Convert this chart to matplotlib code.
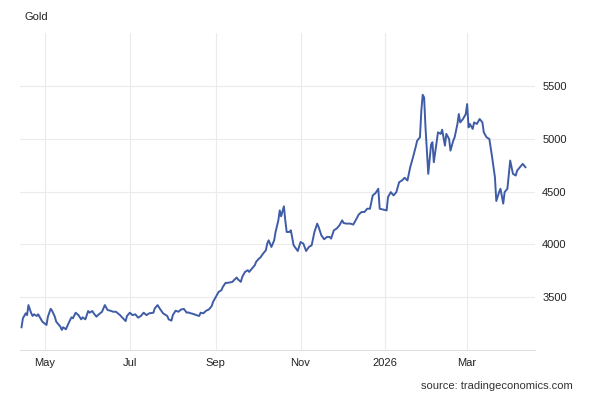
import matplotlib.pyplot as plt
import matplotlib.dates as mdates
import pandas as pd

plt.rcParams['font.family'] = ['Liberation Sans', 'DejaVu Sans']

# gold price
dates = [
    "2025-04-14", "2025-04-15", "2025-04-17", "2025-04-18", "2025-04-19", "2025-04-21",
    "2025-04-22", "2025-04-23", "2025-04-25", "2025-04-26", "2025-04-27", "2025-04-29",
    "2025-05-02", "2025-05-03", "2025-05-05", "2025-05-06", "2025-05-08", "2025-05-09",
    "2025-05-11", "2025-05-12", "2025-05-13", "2025-05-14", "2025-05-16", "2025-05-17",
    "2025-05-19", "2025-05-20", "2025-05-21", "2025-05-23", "2025-05-25", "2025-05-27",
    "2025-05-28", "2025-05-30", "2025-06-01", "2025-06-02", "2025-06-04", "2025-06-05",
    "2025-06-07", "2025-06-08", "2025-06-11", "2025-06-13", "2025-06-15", "2025-06-17",
    "2025-06-19", "2025-06-21", "2025-06-24", "2025-06-25", "2025-06-28", "2025-06-29",
    "2025-07-01", "2025-07-03", "2025-07-05", "2025-07-07", "2025-07-09", "2025-07-11",
    "2025-07-13", "2025-07-15", "2025-07-18", "2025-07-19", "2025-07-21", "2025-07-23",
    "2025-07-25", "2025-07-28", "2025-07-29", "2025-07-31", "2025-08-01", "2025-08-03",
    "2025-08-05", "2025-08-07", "2025-08-09", "2025-08-11", "2025-08-12", "2025-08-14",
    "2025-08-16", "2025-08-18", "2025-08-20", "2025-08-21", "2025-08-23", "2025-08-25",
    "2025-08-27", "2025-08-29", "2025-08-30", "2025-09-01", "2025-09-03", "2025-09-05",
    "2025-09-06", "2025-09-08", "2025-09-09", "2025-09-11", "2025-09-13", "2025-09-14",
    "2025-09-16", "2025-09-17", "2025-09-19", "2025-09-20", "2025-09-22", "2025-09-24",
    "2025-09-25", "2025-09-27", "2025-09-29", "2025-09-30", "2025-10-02", "2025-10-03",
    "2025-10-05", "2025-10-07", "2025-10-08", "2025-10-09", "2025-10-11", "2025-10-13",
    "2025-10-14", "2025-10-16", "2025-10-17", "2025-10-18", "2025-10-20", "2025-10-21",
    "2025-10-22", "2025-10-24", "2025-10-25", "2025-10-27", "2025-10-30", "2025-11-01",
    "2025-11-03", "2025-11-05", "2025-11-07", "2025-11-09", "2025-11-11", "2025-11-13",
    "2025-11-14", "2025-11-16", "2025-11-18", "2025-11-20", "2025-11-22", "2025-11-23",
    "2025-11-25", "2025-11-27", "2025-11-29", "2025-12-01", "2025-12-02", "2025-12-04",
    "2025-12-07", "2025-12-09", "2025-12-10", "2025-12-13", "2025-12-15", "2025-12-17",
    "2025-12-19", "2025-12-21", "2025-12-23", "2025-12-25", "2025-12-27", "2025-12-28",
    "2025-12-31", "2026-01-02", "2026-01-03", "2026-01-05", "2026-01-07", "2026-01-09",
    "2026-01-11", "2026-01-13", "2026-01-15", "2026-01-17", "2026-01-19", "2026-01-21",
    "2026-01-23", "2026-01-24", "2026-01-26", "2026-01-27", "2026-01-28", "2026-01-29",
    "2026-01-30", "2026-02-01", "2026-02-03", "2026-02-04", "2026-02-05", "2026-02-07",
    "2026-02-08", "2026-02-10", "2026-02-11", "2026-02-13", "2026-02-14", "2026-02-16",
    "2026-02-17", "2026-02-19", "2026-02-20", "2026-02-22", "2026-02-23", "2026-02-24",
    "2026-02-26", "2026-02-28", "2026-03-01", "2026-03-02", "2026-03-03", "2026-03-05",
    "2026-03-06", "2026-03-08", "2026-03-10", "2026-03-12", "2026-03-13", "2026-03-15",
    "2026-03-17", "2026-03-19", "2026-03-21", "2026-03-22", "2026-03-24", "2026-03-25",
    "2026-03-27", "2026-03-28", "2026-03-30", "2026-04-01", "2026-04-03", "2026-04-05",
    "2026-04-06", "2026-04-08", "2026-04-10", "2026-04-12",
]
prices = [
    3215, 3300, 3347, 3330, 3425, 3347,
    3322, 3338, 3322, 3338, 3315, 3268,
    3237, 3315, 3390, 3372, 3315, 3268,
    3237, 3221, 3190, 3215, 3196, 3227,
    3284, 3309, 3300, 3353, 3330, 3290,
    3309, 3290, 3369, 3353, 3369, 3347,
    3315, 3330, 3362, 3425, 3378, 3372,
    3362, 3362, 3330, 3315, 3274, 3322,
    3353, 3330, 3338, 3306, 3322, 3353,
    3330, 3347, 3353, 3394, 3425, 3384,
    3347, 3322, 3290, 3278, 3330, 3372,
    3362, 3384, 3388, 3353, 3356, 3347,
    3340, 3330, 3322, 3353, 3347, 3372,
    3384, 3416, 3456, 3503, 3550, 3566,
    3597, 3635, 3635, 3639, 3645, 3661,
    3686, 3667, 3645, 3692, 3739, 3755,
    3739, 3771, 3802, 3834, 3865, 3874,
    3912, 3944, 4007, 4038, 3975, 4038,
    4117, 4227, 4321, 4265, 4360, 4227,
    4117, 4117, 4133, 3991, 3937, 4022,
    4007, 3937, 3975, 3991, 4117, 4196,
    4164, 4085, 4048, 4070, 4070, 4054,
    4133, 4149, 4180, 4227, 4202, 4196,
    4196, 4187, 4211, 4284, 4306, 4306,
    4337, 4337, 4463, 4485, 4526, 4337,
    4328, 4321, 4447, 4494, 4463, 4494,
    4588, 4604, 4630, 4604, 4730, 4824,
    4925, 4981, 5013, 5264, 5415, 5390,
    5107, 4667, 4944, 4966, 4777, 4966,
    5060, 5045, 5085, 4934, 5045, 4997,
    4887, 4981, 5013, 5139, 5233, 5154,
    5186, 5233, 5327, 5107, 5139, 5092,
    5154, 5139, 5186, 5154, 5060, 5013,
    4997, 4824, 4636, 4410, 4494, 4526,
    4385, 4494, 4526, 4793, 4667, 4651,
    4698, 4730, 4761, 4730,
]
y_ticks = [3500, 4000, 4500, 5000, 5500]

x = pd.to_datetime(dates)

fig = plt.figure(figsize=(5.92, 4.0), dpi=100)
ax = fig.add_axes([0.034, 0.125, 0.87, 0.7925])

ax.plot(x, prices, color="#3f5ca6", linewidth=1.4)

ax.set_xlim(pd.Timestamp("2025-04-13"), pd.Timestamp("2026-04-19"))
ax.set_ylim(3000, 6000)

ax.xaxis.set_major_locator(mdates.MonthLocator(bymonth=[1, 3, 5, 7, 9, 11]))
ax.xaxis.set_major_formatter(
    plt.FuncFormatter(lambda v, p: mdates.num2date(v).strftime("%Y") if mdates.num2date(v).month == 1
                      else mdates.num2date(v).strftime("%b")))
ax.set_yticks(y_ticks)
ax.yaxis.tick_right()

ax.grid(True, color="#ebebeb", linewidth=0.8)
ax.set_axisbelow(True)
for side in ["top", "left", "right"]:
    ax.spines[side].set_visible(False)
ax.spines["bottom"].set_color("#e0e0e0")
ax.spines["bottom"].set_linewidth(0.8)

ax.tick_params(axis="both", length=0, labelsize=8, colors="#222222")
ax.tick_params(axis="x", pad=6)
ax.tick_params(axis="y", pad=5)

fig.text(0.042, 0.958, "Gold", fontsize=8, color="#222222", va="center")
fig.text(0.968, 0.035, "source: tradingeconomics.com", fontsize=8, color="#333333",
         ha="right", va="center")

plt.savefig("out.png", dpi=100)
